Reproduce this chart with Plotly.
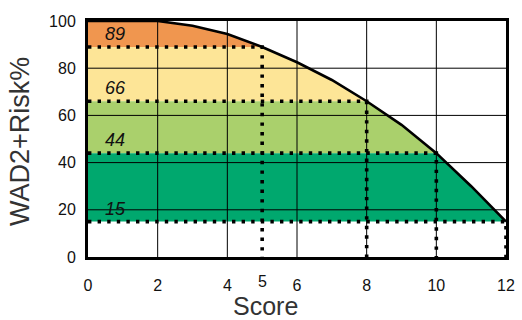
import numpy as np
import plotly.graph_objects as go

# Data
score = [0, 1, 2, 3, 4, 5, 6, 7, 8, 9, 10, 11, 12]
risk = [100, 100, 100, 98, 94.5, 89, 82.5, 75, 66, 56, 44, 30, 15]

thresholds = [89, 66, 44, 15]          # risk levels marked
threshold_scores = [5, 8, 10, 12]      # score where curve meets each level
band_tops = [100, 89, 66, 44]
band_colors = ["#F0964F", "#FDE597", "#AAD06C", "#00A86E"]

x_ticks = [0, 2, 4, 6, 8, 10, 12]
x_extra_tick = 5
y_ticks = [0, 20, 40, 60, 80, 100]
x_grid = [2, 4, 6, 8, 10]
y_grid = [20, 40, 60, 80]

FONT = "Liberation Sans, Arial, sans-serif"

fig = go.Figure()

s = np.array(score, dtype=float)
r = np.array(risk, dtype=float)

# colour bands under the curve
for low, top, xl, col in zip(thresholds, band_tops, threshold_scores, band_colors):
    mask = s <= xl
    xs = list(s[mask]) + [xl, 0]
    ys = list(np.minimum(r[mask], top)) + [low, low]
    fig.add_trace(go.Scatter(x=xs, y=ys, fill="toself", fillcolor=col,
                             mode="lines", line=dict(width=0), hoverinfo="skip",
                             showlegend=False))

# grid lines on top of fills
gx, gy = [], []
for v in x_grid:
    gx += [v, v, None]
    gy += [0, 100, None]
for v in y_grid:
    gx += [0, 12, None]
    gy += [v, v, None]
fig.add_trace(go.Scatter(x=gx, y=gy, mode="lines",
                         line=dict(color="black", width=1), hoverinfo="skip",
                         showlegend=False))

# curve
fig.add_trace(go.Scatter(x=score, y=risk, mode="lines",
                         line=dict(color="black", width=2.6), showlegend=False))

# dotted guide lines
for low, xl in zip(thresholds, threshold_scores):
    fig.add_trace(go.Scatter(x=[0, xl, xl], y=[low, low, 0], mode="lines",
                             line=dict(color="black", width=3.6, dash="3.4px,6.2px"),
                             cliponaxis=False, hoverinfo="skip", showlegend=False))

# labels
for low in thresholds:
    fig.add_annotation(x=0.42, y=low, text=str(low), showarrow=False,
                       xanchor="left", yanchor="bottom", yshift=1,
                       font=dict(family=FONT, size=18, color="#111", style="italic"))

# extra tick label "5" (sits a bit higher than the others)
fig.add_annotation(x=x_extra_tick, y=0, text=str(x_extra_tick), showarrow=False,
                   xanchor="center", yanchor="top", yshift=-14,
                   font=dict(family=FONT, size=16, color="#111"))

# axis titles
fig.add_annotation(x=0.5, y=0, xref="paper", yref="paper", text="Score",
                   showarrow=False, xanchor="center", yanchor="middle",
                   xshift=-32, yshift=-49, borderpad=0,
                   font=dict(family=FONT, size=25, color="#333"))
fig.add_annotation(x=0, y=0.5, xref="paper", yref="paper", text="WAD2+Risk%",
                   showarrow=False, textangle=-90, xanchor="center", yanchor="middle",
                   xshift=-68, yshift=-3,
                   font=dict(family=FONT, size=27, color="#333"))

fig.update_layout(
    width=522, height=320,
    margin=dict(l=88, r=16, t=21, b=63),
    paper_bgcolor="white", plot_bgcolor="white",
    font=dict(family=FONT, color="#111"),
)
fig.update_xaxes(range=[0, 12], tickvals=x_ticks,
                 showgrid=False, zeroline=False, showline=True, mirror=True,
                 linecolor="black", linewidth=3, ticks="outside", ticklen=0,
                 ticklabelstandoff=12, tickfont=dict(size=16), automargin=False)
fig.update_yaxes(range=[0, 100], tickvals=y_ticks,
                 showgrid=False, zeroline=False, showline=True, mirror=True,
                 linecolor="black", linewidth=3, ticks="outside", ticklen=0,
                 ticklabelstandoff=6, tickfont=dict(size=16), automargin=False)

fig.write_html("out.html", config={"displayModeBar": False},
               post_script="document.body.style.margin='0';")
